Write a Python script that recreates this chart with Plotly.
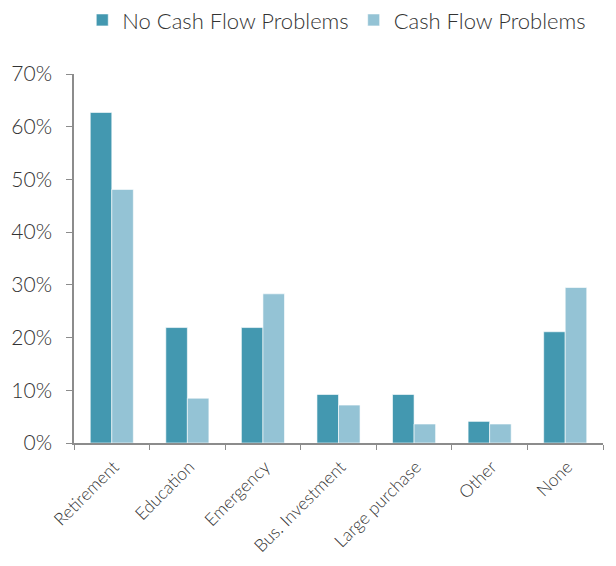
import plotly.graph_objects as go

categories = ["Retirement", "Education", "Emergency", "Bus. Investment", "Large purchase", "Other", "None"]
no_cash_flow = [62.7, 21.9, 21.9, 9.2, 9.2, 4.1, 21.1]
cash_flow = [48.1, 8.5, 28.3, 7.2, 3.6, 3.6, 29.5]
y_ticks = [0, 10, 20, 30, 40, 50, 60, 70]
y_tick_text = [f"{v}%" for v in y_ticks]

font_family = "Lato, Open Sans, sans-serif"

fig = go.Figure()
fig.add_trace(go.Bar(name="No Cash Flow Problems", x=categories, y=no_cash_flow,
                     marker=dict(color="#4398B0", line=dict(color="white", width=0.6))))
fig.add_trace(go.Bar(name="Cash Flow Problems", x=categories, y=cash_flow,
                     marker=dict(color="#94C3D5", line=dict(color="white", width=0.6))))

fig.update_layout(
    width=600, height=550,
    margin=dict(l=66, r=5, t=66, b=115, autoexpand=False),
    barmode="group", bargap=0.43, bargroupgap=0,
    plot_bgcolor="white", paper_bgcolor="white",
    font=dict(family=font_family, color="#333333", weight=300),
    legend=dict(orientation="h", x=0.4967, xanchor="center", y=1.146, yref="paper", yanchor="middle",
                font=dict(size=22, color="#333333", weight=300), itemwidth=30, traceorder="normal"),
    xaxis=dict(showline=True, linecolor="#8c8c8c", linewidth=1.5, ticks="outside",
               tickson="boundaries", ticklen=5, tickcolor="#8c8c8c", tickangle=-45,
               tickfont=dict(size=17.5, color="#333333", weight=300), showgrid=False,
               ticklabelshift=2, ticklabelstandoff=5),
    yaxis=dict(range=[0, 70], tickvals=y_ticks, ticktext=y_tick_text, showline=True,
               linecolor="#8c8c8c", linewidth=1.5, ticks="outside", ticklen=6,
               tickcolor="#8c8c8c", tickfont=dict(size=21, color="#333333", weight=300),
               showgrid=False, zeroline=False, ticklabelstandoff=10),
)

fig.write_html("out.html")
